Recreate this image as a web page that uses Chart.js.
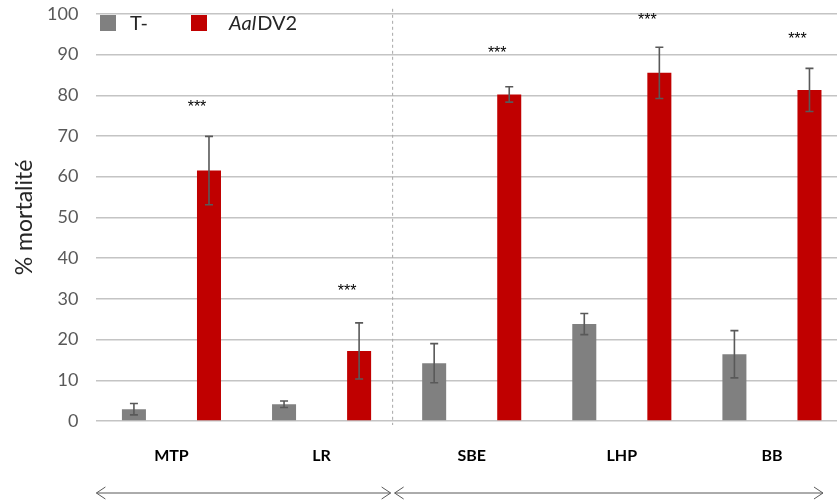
<!DOCTYPE html>
<html>
<head>
<meta charset="utf-8">
<script src="https://cdn.jsdelivr.net/npm/chart.js@4/dist/chart.umd.min.js"></script>
<style>
  html, body { margin: 0; padding: 0; background: #fff; overflow: hidden; }
  #boite { position: relative; width: 850px; height: 500px; }
</style>
</head>
<body>
<div id="boite"><canvas id="graphique"></canvas></div>
<script>
// données
const sites = ['MTP', 'LR', 'SBE', 'LHP', 'BB'];
const temoin = [2.9, 4.1, 14.2, 23.8, 16.4];
const temoinErr = [1.4, 0.8, 4.8, 2.6, 5.8];
const aaldv2 = [61.5, 17.2, 80.2, 85.5, 81.3];
const aaldv2Err = [8.4, 6.9, 1.9, 6.3, 5.3];
const etoiles = [77.7, 32.4, 90.9, 99, 94.4];
const yMin = 0, yMax = 100, yPas = 10;

const police = 'Lato, "Open Sans", "Liberation Sans", sans-serif';
const gris = '#595959';

// barres d'erreur
const barresErreur = {
  id: 'barresErreur',
  afterDatasetsDraw(chart) {
    const ctx = chart.ctx, y = chart.scales.y;
    const erreurs = [temoinErr, aaldv2Err];
    ctx.save();
    ctx.strokeStyle = gris;
    ctx.lineWidth = 1.6;
    chart.data.datasets.forEach((ds, i) => {
      chart.getDatasetMeta(i).data.forEach((bar, j) => {
        const v = ds.data[j], e = erreurs[i][j];
        const haut = y.getPixelForValue(v + e), bas = y.getPixelForValue(v - e);
        ctx.beginPath();
        ctx.moveTo(bar.x, haut); ctx.lineTo(bar.x, bas);
        ctx.moveTo(bar.x - 4, haut); ctx.lineTo(bar.x + 4, haut);
        ctx.moveTo(bar.x - 4, bas); ctx.lineTo(bar.x + 4, bas);
        ctx.stroke();
      });
    });
    // étoiles de significativité
    ctx.fillStyle = '#000';
    ctx.font = '16px "Liberation Sans", sans-serif';
    ctx.textAlign = 'center';
    ctx.textBaseline = 'middle';
    chart.getDatasetMeta(1).data.forEach((bar, j) => {
      ctx.fillText('***', bar.x - 12, y.getPixelForValue(etoiles[j]) + 3);
    });
    ctx.restore();
  }
};

// légende, séparateur et flèches
const decor = {
  id: 'decor',
  afterDraw(chart) {
    const ctx = chart.ctx, x = chart.scales.x, area = chart.chartArea;
    const largeur = x.getPixelForTick(1) - x.getPixelForTick(0);
    const separation = (x.getPixelForTick(1) + x.getPixelForTick(2)) / 2 - 4;
    ctx.save();

    // ligne pointillée
    ctx.strokeStyle = '#a6a6a6';
    ctx.lineWidth = 1;
    ctx.setLineDash([3, 3]);
    ctx.beginPath();
    ctx.moveTo(separation, area.top - 5);
    ctx.lineTo(separation, area.bottom + 4);
    ctx.stroke();
    ctx.setLineDash([]);

    // flèches
    const yf = 493;
    const fleche = (x1, x2) => {
      ctx.beginPath();
      ctx.moveTo(x1, yf); ctx.lineTo(x2, yf);
      ctx.moveTo(x1 + 9, yf - 6); ctx.lineTo(x1, yf); ctx.lineTo(x1 + 9, yf + 6);
      ctx.moveTo(x2 - 9, yf - 6); ctx.lineTo(x2, yf); ctx.lineTo(x2 - 9, yf + 6);
      ctx.stroke();
    };
    ctx.strokeStyle = gris;
    ctx.lineWidth = 1;
    fleche(area.left, separation - 2);
    fleche(separation + 2, x.getPixelForTick(4) + largeur * 0.34);

    // légende
    ctx.fillStyle = '#808080';
    ctx.fillRect(100, 15, 16, 16);
    ctx.fillStyle = '#c00000';
    ctx.fillRect(191, 15, 16, 16);
    ctx.fillStyle = '#262626';
    ctx.textBaseline = 'middle';
    ctx.textAlign = 'left';
    ctx.font = '20px ' + police;
    ctx.fillText('T-', 130, 24);
    ctx.font = 'italic 20px ' + police;
    ctx.fillText('Aal', 229, 24);
    const w = ctx.measureText('Aal').width;
    ctx.font = '20px ' + police;
    ctx.fillText('DV2', 229 + w + 1, 24);
    ctx.restore();
  }
};

new Chart(document.getElementById('graphique'), {
  type: 'bar',
  data: {
    labels: sites,
    datasets: [
      { label: 'T-', data: temoin, backgroundColor: '#808080',
        categoryPercentage: 1.0, barPercentage: 0.32 },
      { label: 'AalDV2', data: aaldv2, backgroundColor: '#c00000',
        categoryPercentage: 1.0, barPercentage: 0.32 }
    ]
  },
  options: {
    responsive: true,
    maintainAspectRatio: false,
    animation: false,
    layout: { padding: { top: 0, right: 3, left: 0, bottom: 0 } },
    plugins: { legend: { display: false }, tooltip: { enabled: false } },
    scales: {
      x: {
        grid: { display: false, drawTicks: false },
        border: { display: false },
        ticks: { color: '#000', padding: 25, font: { family: police, size: 16, weight: 'bold' } },
        afterFit(scale) { scale.height = 79; }
      },
      y: {
        min: yMin, max: yMax,
        grid: { color: '#c4c4c4', lineWidth: 1.4, drawTicks: true, tickLength: 15, tickColor: 'rgba(0,0,0,0)' },
        border: { display: false },
        ticks: { stepSize: yPas, color: gris, padding: 3, font: { family: police, size: 18 } },
        title: {
          display: true, text: '% mortalité', color: '#262626',
          font: { family: police, size: 23 }, padding: { top: 11, bottom: 0 }
        },
        afterFit(scale) { scale.width = 96.4; }
      }
    }
  },
  plugins: [barresErreur, decor]
});
</script>
</body>
</html>
